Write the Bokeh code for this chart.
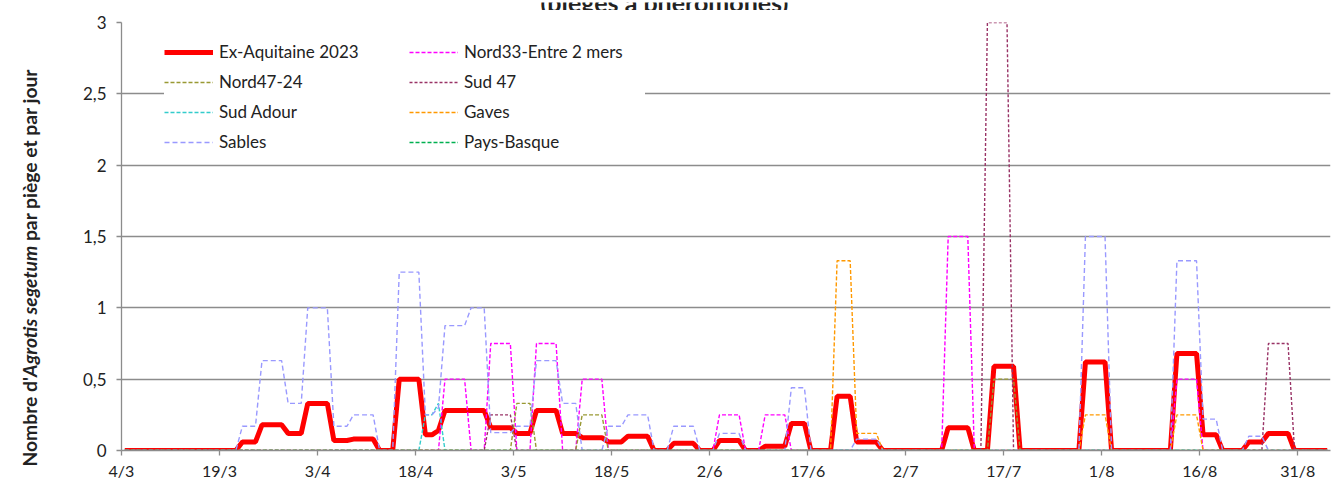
import pandas as pd
from bokeh.plotting import figure
from bokeh.layouts import column, row
from bokeh.models import Range1d, FixedTicker, Legend, LegendItem, CustomJSTickFormatter, Div
from bokeh.core.properties import value
from bokeh.embed import file_html
from bokeh.resources import INLINE

YEAR = 2023
FIRST_DAY = "4/3"
LAST_DAY = "4/9"

tick_labels = ["4/3", "19/3", "3/4", "18/4", "3/5", "18/5", "2/6", "17/6",
               "2/7", "17/7", "1/8", "16/8", "31/8"]
y_ticks = [0, 0.5, 1, 1.5, 2, 2.5, 3]

# Ex-Aquitaine 2023 (vertices of the daily series)
aquitaine_dates = ["4/3", "21/3", "22/3", "24/3", "25/3", "28/3", "29/3", "31/3", "1/4", "4/4",
                   "5/4", "7/4", "8/4", "11/4", "12/4", "14/4", "15/4", "18/4", "19/4", "20/4",
                   "21/4", "22/4", "28/4", "29/4", "2/5", "3/5", "5/5", "6/5", "9/5", "10/5",
                   "12/5", "13/5", "16/5", "17/5", "19/5", "20/5", "23/5", "24/5", "26/5", "27/5",
                   "30/5", "31/5", "2/6", "3/6", "6/6", "7/6", "9/6", "10/6", "13/6", "14/6",
                   "16/6", "17/6", "20/6", "21/6", "23/6", "24/6", "27/6", "28/6", "7/7", "8/7",
                   "11/7", "12/7", "14/7", "15/7", "18/7", "19/7", "28/7", "29/7", "1/8", "2/8",
                   "11/8", "12/8", "15/8", "16/8", "18/8", "19/8", "22/8", "23/8", "25/8", "26/8",
                   "29/8", "30/8", "4/9"]
aquitaine_vals = [0, 0, 0.06, 0.06, 0.18, 0.18, 0.12, 0.12, 0.33, 0.33,
                  0.07, 0.07, 0.08, 0.08, 0, 0, 0.5, 0.5, 0.11, 0.11,
                  0.14, 0.28, 0.28, 0.16, 0.16, 0.12, 0.12, 0.28, 0.28, 0.12,
                  0.12, 0.09, 0.09, 0.06, 0.06, 0.10, 0.10, 0, 0, 0.05,
                  0.05, 0, 0, 0.07, 0.07, 0, 0, 0.03, 0.03, 0.19,
                  0.19, 0, 0, 0.38, 0.38, 0.06, 0.06, 0, 0, 0.16,
                  0.16, 0, 0, 0.59, 0.59, 0, 0, 0.62, 0.62, 0,
                  0, 0.68, 0.68, 0.11, 0.11, 0, 0, 0.06, 0.06, 0.12,
                  0.12, 0, 0]

nord33_dates = ["4/3", "21/4", "22/4", "25/4", "26/4", "28/4", "29/4", "2/5", "3/5", "5/5",
                "6/5", "9/5", "10/5", "12/5", "13/5", "16/5", "17/5", "2/6", "3/6", "6/6",
                "7/6", "9/6", "10/6", "13/6", "14/6", "7/7", "8/7", "11/7", "12/7", "11/8",
                "12/8", "15/8", "16/8", "4/9"]
nord33_vals = [0, 0, 0.5, 0.5, 0, 0, 0.75, 0.75, 0, 0,
               0.75, 0.75, 0, 0, 0.5, 0.5, 0, 0, 0.25, 0.25,
               0, 0, 0.25, 0.25, 0, 0, 1.5, 1.5, 0, 0,
               0.5, 0.5, 0, 0]

nord47_dates = ["4/3", "2/5", "3/5", "5/5", "6/5", "12/5", "13/5", "16/5", "17/5",
                "14/7", "15/7", "18/7", "19/7", "4/9"]
nord47_vals = [0, 0, 0.33, 0.33, 0, 0, 0.25, 0.25, 0, 0, 0.5, 0.5, 0, 0]

sud47_dates = ["4/3", "28/4", "29/4", "2/5", "3/5", "13/7", "14/7", "17/7", "18/7",
               "25/8", "26/8", "29/8", "30/8", "4/9"]
sud47_vals = [0, 0, 0.25, 0.25, 0, 0, 3, 3, 0, 0, 0.75, 0.75, 0, 0]

sudadour_dates = ["4/3", "18/4", "19/4", "20/4", "21/4", "22/4", "4/9"]
sudadour_vals = [0, 0, 0.25, 0.25, 0.33, 0, 0]

gaves_dates = ["4/3", "20/6", "21/6", "23/6", "24/6", "27/6", "28/6", "28/7", "29/7", "1/8",
               "2/8", "11/8", "12/8", "15/8", "16/8", "4/9"]
gaves_vals = [0, 0, 1.33, 1.33, 0.12, 0.12, 0, 0, 0.25, 0.25,
              0, 0, 0.25, 0.25, 0, 0]

sables_dates = ["4/3", "21/3", "22/3", "24/3", "25/3", "28/3", "29/3", "31/3", "1/4", "4/4",
                "5/4", "7/4", "8/4", "11/4", "12/4", "14/4", "15/4", "18/4", "19/4", "20/4",
                "21/4", "22/4", "25/4", "26/4", "28/4", "29/4", "2/5", "3/5", "5/5", "6/5",
                "9/5", "10/5", "12/5", "13/5", "16/5", "17/5", "19/5", "20/5", "23/5", "24/5",
                "26/5", "27/5", "30/5", "31/5", "2/6", "3/6", "6/6", "7/6", "13/6", "14/6",
                "16/6", "17/6", "23/6", "24/6", "27/6", "28/6", "28/7", "29/7", "1/8", "2/8",
                "11/8", "12/8", "15/8", "16/8", "18/8", "19/8", "22/8", "23/8", "25/8", "26/8",
                "4/9"]
sables_vals = [0, 0, 0.17, 0.17, 0.63, 0.63, 0.33, 0.33, 1.0, 1.0,
               0.17, 0.17, 0.25, 0.25, 0, 0, 1.25, 1.25, 0.25, 0.25,
               0.3, 0.875, 0.875, 1.0, 1.0, 0.125, 0.125, 0.17, 0.17, 0.63,
               0.63, 0.33, 0.33, 0, 0, 0.17, 0.17, 0.25, 0.25, 0,
               0, 0.17, 0.17, 0, 0, 0.12, 0.12, 0, 0, 0.44,
               0.44, 0, 0, 0.08, 0.08, 0, 0, 1.5, 1.5, 0,
               0, 1.33, 1.33, 0.22, 0.22, 0, 0, 0.1, 0.1, 0,
               0]

paysbasque_dates = ["4/3", "4/9"]
paysbasque_vals = [0, 0]

title_text = "(pièges à phéromones)"
ylabel_before, ylabel_species, ylabel_after = "Nombre d'", "Agrotis segetum", " par piège et par jour"


def day_index(s):
    d, m = s.split("/")
    d0, m0 = FIRST_DAY.split("/")
    return (pd.Timestamp(YEAR, int(m), int(d)) - pd.Timestamp(YEAR, int(m0), int(d0))).days


def centers(dates):
    # each daily value sits in the middle of its day slot
    return [day_index(s) + 0.5 for s in dates]


FONT = "Lato"
GREY = "#8c8c8c"
TXT = "#222222"
W, H = 1338, 482
TOP_H = 10
LEFT_W = 60

# --- main chart ---
p = figure(width=W - LEFT_W, height=H - TOP_H, output_backend="svg", toolbar_location=None,
           x_range=Range1d(0, day_index(LAST_DAY) + 1), y_range=Range1d(0, 3),
           min_border_left=61, min_border_right=8, min_border_top=12, min_border_bottom=31)
p.outline_line_color = None

series = [
    ("Ex-Aquitaine 2023", aquitaine_dates, aquitaine_vals, "#ff0000", 5, "solid"),
    ("Nord33-Entre 2 mers", nord33_dates, nord33_vals, "#ff00ff", 1.4, "4 2"),
    ("Nord47-24", nord47_dates, nord47_vals, "#999933", 1.4, "4 2"),
    ("Sud 47", sud47_dates, sud47_vals, "#993366", 1.4, "3 2"),
    ("Sud Adour", sudadour_dates, sudadour_vals, "#33cccc", 1.4, "4 2"),
    ("Gaves", gaves_dates, gaves_vals, "#ff9900", 1.4, "4 2"),
    ("Sables", sables_dates, sables_vals, "#9999ff", 1.4, "5 3"),
    ("Pays-Basque", paysbasque_dates, paysbasque_vals, "#00b050", 1.4, "4 2"),
]

renderers = {}
for name, dates, vals, color, w, dash in series:
    renderers[name] = p.line(centers(dates), vals, line_color=color, line_width=w, line_dash=dash)

p.xaxis.ticker = FixedTicker(ticks=[day_index(t) for t in tick_labels])
p.xaxis.major_label_overrides = {day_index(t): t for t in tick_labels}
p.yaxis.ticker = FixedTicker(ticks=y_ticks)
p.yaxis.formatter = CustomJSTickFormatter(code="return tick.toString().replace('.', ',')")
for ax in (p.xaxis, p.yaxis):
    ax.axis_line_color = GREY
    ax.axis_line_width = 1.3
    ax.major_tick_line_color = GREY
    ax.major_tick_line_width = 1.3
    ax.minor_tick_line_color = None
    ax.major_tick_in = 0
    ax.major_tick_out = 5
    ax.major_label_text_font = FONT
    ax.major_label_text_color = TXT
p.xaxis.major_label_text_font_size = "16px"
p.yaxis.major_label_text_font_size = "17px"
p.xaxis.major_label_standoff = 5
p.yaxis.major_label_standoff = 10

p.xgrid.visible = False
p.ygrid.grid_line_color = GREY
p.ygrid.grid_line_width = 1.3

# legend (column-major order so that rows read as in the original)
order = ["Ex-Aquitaine 2023", "Nord47-24", "Sud Adour", "Sables",
         "Nord33-Entre 2 mers", "Sud 47", "Gaves", "Pays-Basque"]
legend = Legend(items=[LegendItem(label=n, renderers=[renderers[n]]) for n in order],
                ncols=2, location=(43, 298), margin=0, padding=10, spacing=9, label_standoff=6,
                glyph_width=49, glyph_height=20, label_height=20, label_width=181,
                background_fill_color="white", background_fill_alpha=1.0,
                border_line_color=None, label_text_font=FONT, label_text_font_size="17px",
                label_text_color=TXT)
p.add_layout(legend)

# --- title strip (the original shows only the bottom of the title) ---
top = figure(width=W, height=TOP_H, output_backend="svg", toolbar_location=None,
             x_range=Range1d(0, W), y_range=Range1d(0, TOP_H),
             x_axis_location=None, y_axis_location=None, min_border=0)
top.outline_line_color = None
top.xgrid.visible = False
top.ygrid.visible = False
top.text(x=[664], y=[11], text=[title_text], text_align="center", text_baseline="alphabetic",
         text_font=value(FONT), text_font_size=value("25px"), text_font_style=value("bold"),
         text_color=TXT)

# --- y-axis title, species name in italics, rotated with CSS ---
ylab_html = (
    f'<div style="position:relative;width:{LEFT_W}px;height:{H - TOP_H}px;">'
    '<div style="position:absolute;left:30px;top:258px;'
    'transform:translate(-50%,-50%) rotate(-90deg);white-space:nowrap;'
    f'font-family:{FONT};font-weight:bold;font-size:19.3px;color:{TXT};line-height:1;">'
    f'{ylabel_before}<i>{ylabel_species}</i>{ylabel_after}</div></div>'
)
left = Div(text=ylab_html, width=LEFT_W, height=H - TOP_H, margin=0)

layout = column(top, row(left, p))
open("out.html", "w").write(file_html(layout, INLINE))
